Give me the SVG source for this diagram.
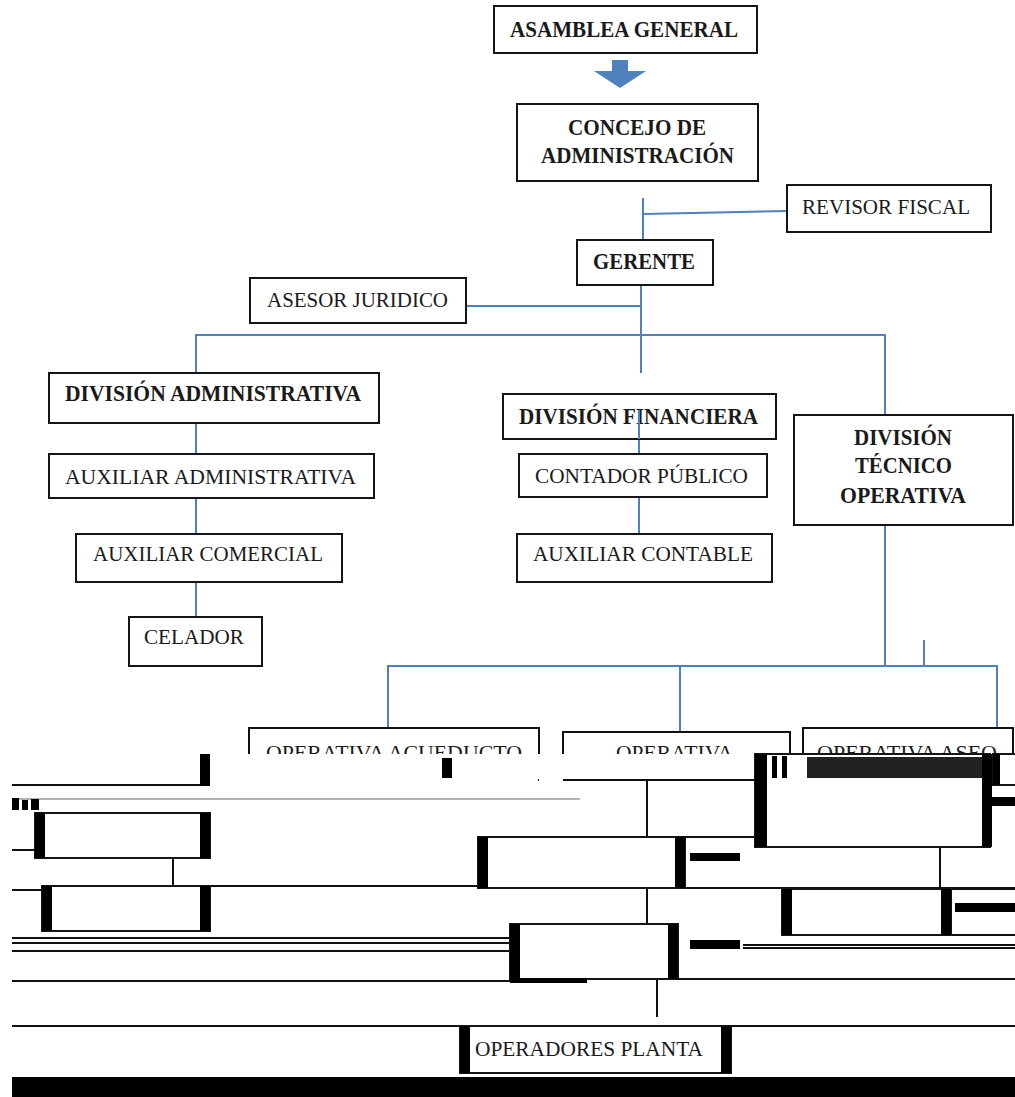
<svg xmlns="http://www.w3.org/2000/svg" width="1015" height="1097" viewBox="0 0 1015 1097">
<style>
.box{fill:#fff;stroke:#151515;stroke-width:2}
.b{font-family:"Liberation Serif","Times New Roman",serif;font-weight:bold;font-size:24px;fill:#1a1a1a}
.r{font-family:"Liberation Serif","Times New Roman",serif;font-size:22px;fill:#1a1a1a}
.c{fill:none;stroke:#4f81bd;stroke-width:2}
.k{fill:none;stroke:#111;stroke-width:2}
.g{fill:none;stroke:#999;stroke-width:1.5}
.bar{fill:#000}
</style>
<defs>
<clipPath id="cut"><rect x="0" y="0" width="1015" height="754"/></clipPath>
</defs>
<rect width="1015" height="1097" fill="#fff"/>

<g id="connectors">
<polygon points="612,60 628,60 628,71 646,71 620,88 594,71 612,71" fill="#4f81bd"/>
<path class="c" d="M643 198V240M643 214L787 211"/>
<path class="c" d="M641 285V373M466 306H641M196 373V335H885V415"/>
<path class="c" d="M639 410V454M639 497V534"/>
<path class="c" d="M196 423V454M196 498V534M196 582V617"/>
<path class="c" d="M885 525V666M924 640V666M388 728V666H997V728M680 666V731"/>
</g>

<g id="asamblea"><rect class="box" x="494" y="6" width="263" height="47"/><text class="b" x="510" y="37" textLength="228" lengthAdjust="spacingAndGlyphs">ASAMBLEA GENERAL</text></g>
<g id="concejo"><rect class="box" x="517" y="104" width="241" height="77"/><text class="b" x="568" y="135" textLength="138" lengthAdjust="spacingAndGlyphs">CONCEJO DE</text><text class="b" x="541" y="163" textLength="193" lengthAdjust="spacingAndGlyphs">ADMINISTRACIÓN</text></g>
<g id="revisor"><rect class="box" x="787" y="185" width="204" height="47"/><text class="r" x="802" y="214" textLength="168" lengthAdjust="spacingAndGlyphs">REVISOR FISCAL</text></g>
<g id="gerente"><rect class="box" x="577" y="240" width="136" height="45"/><text class="b" x="593" y="269" textLength="102" lengthAdjust="spacingAndGlyphs">GERENTE</text></g>
<g id="asesor"><rect class="box" x="250" y="278" width="216" height="45"/><text class="r" x="267" y="307" textLength="181" lengthAdjust="spacingAndGlyphs">ASESOR JURIDICO</text></g>
<g id="div-admin"><rect class="box" x="49" y="373" width="330" height="50"/><text class="b" x="65" y="401" textLength="296" lengthAdjust="spacingAndGlyphs">DIVISIÓN ADMINISTRATIVA</text></g>
<g id="aux-admin"><rect class="box" x="49" y="454" width="325" height="44"/><text class="r" x="65" y="484" textLength="291" lengthAdjust="spacingAndGlyphs">AUXILIAR ADMINISTRATIVA</text></g>
<g id="aux-comercial"><rect class="box" x="76" y="534" width="266" height="48"/><text class="r" x="93" y="561" textLength="230" lengthAdjust="spacingAndGlyphs">AUXILIAR COMERCIAL</text></g>
<g id="celador"><rect class="box" x="129" y="617" width="133" height="49"/><text class="r" x="144" y="644" textLength="100" lengthAdjust="spacingAndGlyphs">CELADOR</text></g>
<g id="div-fin"><rect class="box" x="503" y="394" width="273" height="45"/><text class="b" x="519" y="424" textLength="239" lengthAdjust="spacingAndGlyphs">DIVISIÓN FINANCIERA</text></g>
<path class="c" d="M639 410V439"/>
<g id="contador"><rect class="box" x="519" y="454" width="248" height="43"/><text class="r" x="535" y="483" textLength="213" lengthAdjust="spacingAndGlyphs">CONTADOR PÚBLICO</text></g>
<g id="aux-contable"><rect class="box" x="517" y="534" width="255" height="48"/><text class="r" x="533" y="561" textLength="220" lengthAdjust="spacingAndGlyphs">AUXILIAR CONTABLE</text></g>
<g id="div-tec"><rect class="box" x="794" y="415" width="219" height="110"/><text class="b" x="854" y="445" textLength="98" lengthAdjust="spacingAndGlyphs">DIVISIÓN</text><text class="b" x="855" y="473" textLength="97" lengthAdjust="spacingAndGlyphs">TÉCNICO</text><text class="b" x="840" y="503" textLength="126" lengthAdjust="spacingAndGlyphs">OPERATIVA</text></g>

<g id="op-acueducto" clip-path="url(#cut)"><path class="k" d="M249 760V728H539V760"/><text class="r" x="266" y="760" textLength="256" lengthAdjust="spacingAndGlyphs">OPERATIVA ACUEDUCTO</text></g>
<g id="op-mid" clip-path="url(#cut)"><path class="k" d="M563 760V732H790V760"/><text class="r" x="616" y="760" textLength="117" lengthAdjust="spacingAndGlyphs">OPERATIVA</text></g>
<g id="op-aseo" clip-path="url(#cut)"><path class="k" d="M803 760V728H1013V760"/><text class="r" x="817" y="760" textLength="180" lengthAdjust="spacingAndGlyphs">OPERATIVA ASEO</text></g>

<g id="glitch-lines">
<path class="k" d="M12 785H203M563 780H758M538 780h1"/>
<rect class="bar" x="200" y="754" width="10" height="32"/>
<rect class="bar" x="442" y="758" width="10" height="20"/>
<path class="g" d="M12 799H580"/>
<rect class="bar" x="12" y="798" width="7" height="12"/><rect class="bar" x="22" y="800" width="6" height="10"/><rect class="bar" x="31" y="799" width="8" height="11"/>
<path class="k" d="M12 850H35M173 858V886M42 886H478M12 890H42"/>
<path class="k" d="M12 938H510M12 943H510M12 951H510M12 981H510M12 1026H1015"/>
<path class="k" d="M647 780V837M940 847V889M647 888V924M657 979V1017"/>
<path class="k" d="M478 837H758M478 888H1015M678 979H1015M743 945H1015M743 948H1015M951 889H1015M951 935H1015"/>
<rect class="bar" x="12" y="1077" width="1003" height="20"/>
<rect class="bar" x="690" y="853" width="50" height="8"/>
<rect class="bar" x="690" y="940" width="50" height="9"/>
<rect class="bar" x="955" y="797" width="60" height="9"/>
<rect class="bar" x="955" y="903" width="60" height="9"/>
</g>

<g id="box-a"><rect class="box" x="35" y="813" width="175" height="45"/><rect class="bar" x="35" y="813" width="10" height="45"/><rect class="bar" x="200" y="813" width="10" height="45"/></g>
<g id="box-b"><rect class="box" x="42" y="886" width="168" height="45"/><rect class="bar" x="42" y="886" width="10" height="45"/><rect class="bar" x="200" y="886" width="10" height="45"/></g>
<g id="box-c"><rect class="box" x="510" y="924" width="168" height="55"/><rect class="bar" x="510" y="924" width="10" height="55"/><rect class="bar" x="668" y="924" width="10" height="55"/><rect class="bar" x="510" y="978" width="77" height="5"/></g>
<g id="box-g"><rect class="box" x="478" y="837" width="207" height="51"/><rect class="bar" x="478" y="837" width="10" height="51"/><rect class="bar" x="675" y="837" width="10" height="51"/></g>
<g id="box-e"><rect class="box" x="755" y="754" width="235" height="93"/><rect class="bar" x="755" y="754" width="12" height="93"/><rect class="bar" x="772" y="756" width="5" height="22"/><rect class="bar" x="782" y="756" width="5" height="22"/><rect x="807" y="757" width="175" height="21" fill="#222"/><rect class="bar" x="982" y="754" width="10" height="93"/></g>
<g id="box-f"><rect class="box" x="993" y="754" width="24" height="31"/><rect class="bar" x="993" y="754" width="7" height="31"/></g>
<g id="box-h"><rect class="box" x="782" y="889" width="169" height="46"/><rect class="bar" x="782" y="889" width="10" height="46"/><rect class="bar" x="941" y="889" width="10" height="46"/></g>
<g id="operadores"><rect class="box" x="460" y="1026" width="271" height="47"/><rect class="bar" x="460" y="1026" width="10" height="47"/><rect class="bar" x="721" y="1026" width="10" height="47"/><text class="r" x="475" y="1056" textLength="228" lengthAdjust="spacingAndGlyphs">OPERADORES PLANTA</text></g>
</svg>
